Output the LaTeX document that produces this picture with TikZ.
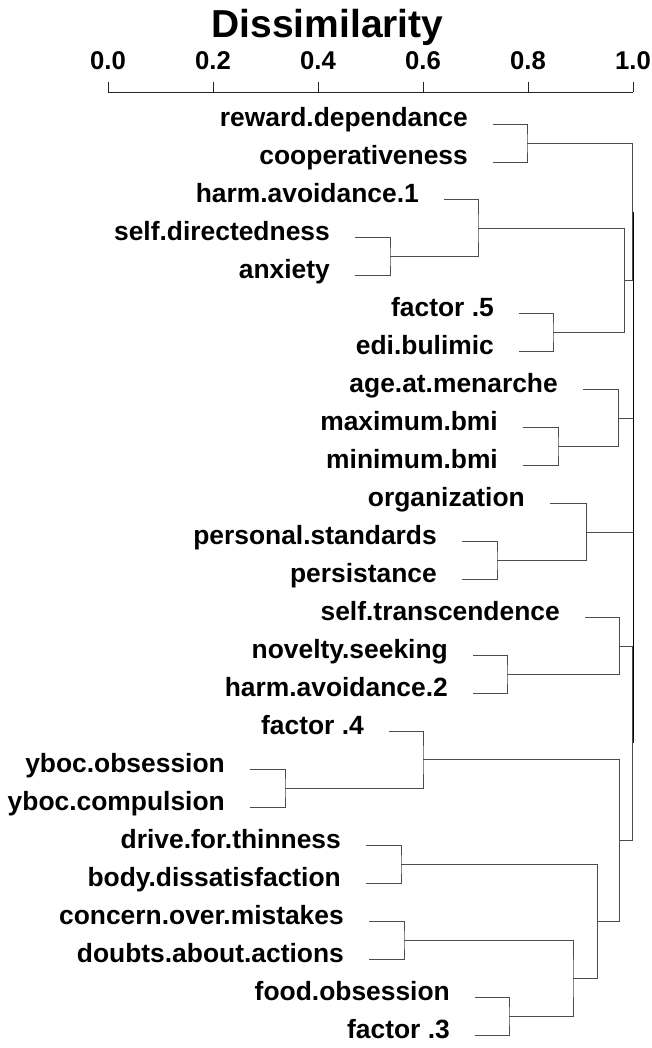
\documentclass[tikz,border=0pt]{standalone}
\usepackage{fontspec}
\setmainfont{Liberation Sans}
\usetikzlibrary{positioning}

\tikzset{
  leaf/.style={font=\fontsize{26.4}{30}\selectfont\bfseries, inner sep=0pt,
    text height=0.75em, text depth=0.15em},
  ticklabel/.style={font=\fontsize{25.7}{30}\selectfont\bfseries, anchor=base},
  branch/.style={draw=black!70, line width=0.9pt},
  axisline/.style={draw=black!85, line width=0.9pt}
}

\begin{document}
\begin{tikzpicture}[x=1pt,y=-1pt,node distance=25pt]
\useasboundingbox (0,0) rectangle (652,1048);

% scale at the top
\node[font=\fontsize{39}{44}\selectfont\bfseries, anchor=base] (title) at (327.5,38) {Dissimilarity};
\foreach \v [count=\i from 0] in {0.0,0.2,0.4,0.6,0.8,1.0} {
  \coordinate (t\i) at (108+105*\i,92);
  \node[ticklabel] (tl\i) at (108+105*\i,69.5) {\v};
  \draw[axisline] (t\i) -- ++(0,-10);
}
\draw[axisline] (t0) -- (t5);

% leaves: name / start of branch / row / label
\foreach \n/\x/\i/\t in {
  rd/493/0/reward.dependance, co/493/1/cooperativeness,
  ha1/444/2/harm.avoidance.1, sd/355/3/self.directedness,
  an/355/4/anxiety, f5/519/5/factor .5, eb/519/6/edi.bulimic,
  aam/583/7/age.at.menarche, max/523/8/maximum.bmi, min/523/9/minimum.bmi,
  org/550/10/organization, ps/462/11/personal.standards, pers/462/12/persistance,
  st/585/13/self.transcendence, ns/473/14/novelty.seeking, ha2/473/15/harm.avoidance.2,
  f4/389/16/factor .4, yo/250/17/yboc.obsession, yc/250/18/yboc.compulsion,
  dft/366/19/drive.for.thinness, bd/366/20/body.dissatisfaction,
  com/369/21/concern.over.mistakes, daa/369/22/doubts.about.actions,
  fo/475/23/food.obsession, f3/475/24/factor .3} {
  \coordinate (\n) at (\x,124+37.96*\i);
  \node[leaf, left=of \n] (\n-l) {\t};
}

% merges
\coordinate (rdco) at (527,143.0);
\coordinate (sdan) at (390,256.9);
\coordinate (ha1sd) at (478,228.4);
\coordinate (f5eb) at (553,332.8);
\coordinate (grpb) at (624,280.6);
\coordinate (top) at (632,211.8);
\coordinate (maxmin) at (558,446.7);
\coordinate (grpc) at (618,418.2);
\coordinate (pspe) at (497,560.6);
\coordinate (grpd) at (586,532.1);
\coordinate (nsha) at (507,674.4);
\coordinate (grpe) at (619,646.0);
\coordinate (yoyc) at (285,788.3);
\coordinate (f4yo) at (423,759.9);
\coordinate (dftbd) at (401,864.2);
\coordinate (comdaa) at (404,940.2);
\coordinate (fof3) at (509,1016.1);
\coordinate (cdff) at (573,978.1);
\coordinate (bdcd) at (597,921.2);
\coordinate (grpf) at (619,840.5);
\coordinate (ef) at (632,743.3);
\coordinate (root) at (633,477.5);

\draw[branch] (rd) -| (rdco) |- (co);
\draw[branch] (sd) -| (sdan) |- (an);
\draw[branch] (ha1) -| (ha1sd) |- (sdan);
\draw[branch] (f5) -| (f5eb) |- (eb);
\draw[branch] (ha1sd) -| (grpb) |- (f5eb);
\draw[branch] (rdco) -| (top) |- (grpb);
\draw[branch] (max) -| (maxmin) |- (min);
\draw[branch] (aam) -| (grpc) |- (maxmin);
\draw[branch] (ps) -| (pspe) |- (pers);
\draw[branch] (org) -| (grpd) |- (pspe);
\draw[branch] (ns) -| (nsha) |- (ha2);
\draw[branch] (st) -| (grpe) |- (nsha);
\draw[branch] (yo) -| (yoyc) |- (yc);
\draw[branch] (f4) -| (f4yo) |- (yoyc);
\draw[branch] (dft) -| (dftbd) |- (bd);
\draw[branch] (com) -| (comdaa) |- (daa);
\draw[branch] (fo) -| (fof3) |- (f3);
\draw[branch] (comdaa) -| (cdff) |- (fof3);
\draw[branch] (dftbd) -| (bdcd) |- (cdff);
\draw[branch] (f4yo) -| (grpf) |- (bdcd);
\draw[branch] (grpe) -| (ef) |- (grpf);
\draw[branch] (grpc) -- (grpc -| root);
\draw[branch] (grpd) -- (grpd -| root);
\draw[branch, draw=black] (top -| root) -- (ef -| root);
\end{tikzpicture}
\end{document}
